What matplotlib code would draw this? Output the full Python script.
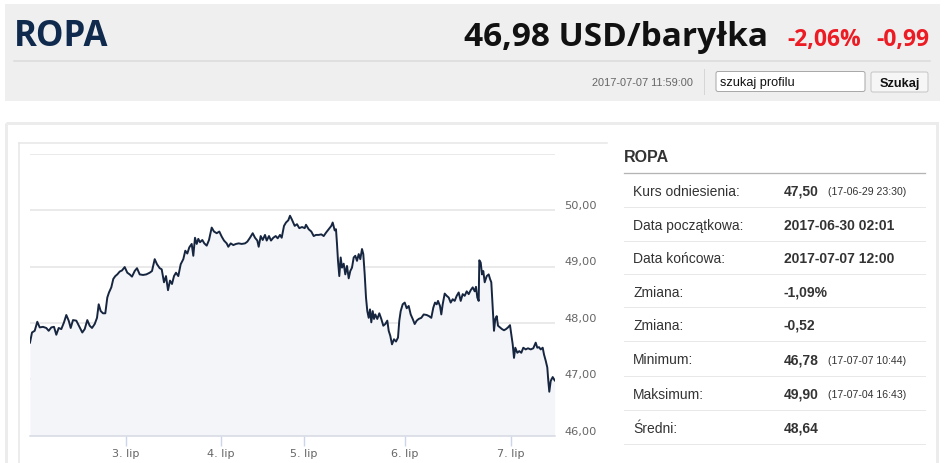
import matplotlib
matplotlib.use("Agg")
import matplotlib.pyplot as plt
from matplotlib.patches import Rectangle, FancyBboxPatch
from matplotlib.transforms import ScaledTranslation
import numpy as np

# ---------------- data ----------------
title = "ROPA"
price_text = "46,98 USD/baryłka"
change_pct_text = "-2,06%"
change_abs_text = "-0,99"
timestamp = "2017-07-07 11:59:00"

# ordinal (trading-time) position and price
t = [0, 2, 4.7, 7.3, 9.7, 13, 16.3, 18.7, 21.3, 24, 26.3, 28.7, 31.3, 34, 36.3,
     38.7, 40.7, 43, 46.3, 49.7, 52.3, 54.7, 57.3, 59.7, 62, 64.7, 67, 68.7, 70.7,
     73, 75.3, 77.3, 79, 81.3, 83.3, 85.3, 87.3, 89.7, 92, 94.7, 97.3, 99.7, 102,
     104.7, 107, 109.7, 113, 116.3, 119.7, 122, 124.7, 127, 129.7,
     131.7, 134, 136, 138, 140, 142, 144, 146, 148.3, 150.7, 153.3, 155.3, 157.3,
     159.3, 161.7, 163.3, 165, 166.7, 168.3, 170, 172.3, 174.3, 176.7, 179, 181.7,
     184, 186.7, 189.3, 191.7, 194, 196.7, 198.3, 200.7, 203.3, 206, 208.7, 211.7,
     215, 217.3, 220, 222.7, 225, 227.3, 228.7, 230.7, 232.7, 235, 236.7, 239, 241,
     243.3, 245.7, 247.7, 250, 251.7, 254, 256, 258.3, 260, 261.7,
     264.7, 267, 269.3, 272, 274.7, 276, 278.7, 281.3, 283.7, 286, 288.7, 291.3,
     293.7, 296, 298.7, 301.3, 302.7, 304.7, 306, 307, 308, 309.3, 310.7, 312,
     313.7, 315.3, 317, 318.7, 320.3, 322, 323.7, 325.3, 327, 328.7, 330.3, 332,
     333.3, 334.7, 336, 337.3, 338.7, 340, 341.3, 342.7, 344, 345.3, 347.3, 349.3,
     351.3, 353.3, 355.3, 357.3, 358.7, 360.3, 362, 364, 366, 368, 369.3, 370.7,
     372.7, 374.7, 376.7, 378.7, 380.7, 382.7, 384.7, 386.7, 388.7, 391.3, 393.7,
     396.7, 399, 401.3, 403.3, 405, 406.7, 408, 410, 411.3, 412.7, 414.7, 416.7,
     418.7, 420.7, 422.7, 424.7, 426.7, 428.7, 430.7, 432.7, 434.7, 436.7, 438.7,
     440.7, 442.7, 444.7, 446, 447.3, 448.7, 449.3, 450.7, 452, 453.3, 454.7, 456.7,
     458.7, 460, 461.3, 462.3, 463.3, 464, 465.3, 466.7, 468, 470, 472, 474, 476,
     478, 480, 481.3, 482.7, 484, 485.3, 487.3, 489.3, 491.3, 493.3, 495.7, 498,
     500.7, 503.3, 505.7, 507.3, 509, 510.7, 512.7, 514, 515.7, 517.3, 518.3, 519.3,
     520.7, 522.7, 524.7]

price = [47.65, 47.83, 47.86, 48.02, 47.92, 47.93, 47.91, 47.86, 47.92, 47.93,
         47.79, 47.91, 47.89, 48.01, 48.14, 48.04, 47.91, 48.05, 48.04, 47.92,
         47.83, 47.89, 48.05, 47.95, 47.91, 47.98, 48.09, 48.33, 48.21, 48.17,
         48.17, 48.45, 48.54, 48.63, 48.78, 48.83, 48.86, 48.91, 48.93, 48.99,
         48.89, 48.86, 48.82, 48.92, 48.97, 48.86, 48.85, 48.86, 48.89, 48.92,
         49.13, 49.04, 48.97,
         48.95, 48.72, 48.83, 48.58, 48.75, 48.69, 48.83, 48.89, 48.83, 49.04,
         49.13, 49.28, 49.23, 49.34, 49.40, 49.19, 49.51, 49.40, 49.49, 49.43,
         49.47, 49.41, 49.37, 49.47, 49.69, 49.62, 49.59, 49.62, 49.53, 49.46,
         49.41, 49.35, 49.41, 49.38, 49.40, 49.41, 49.40, 49.41, 49.44, 49.51,
         49.59, 49.51, 49.46, 49.35, 49.54, 49.47, 49.56, 49.46, 49.54, 49.46,
         49.51, 49.54, 49.50, 49.56, 49.51, 49.72, 49.78, 49.82, 49.90, 49.84,
         49.72, 49.75, 49.68, 49.70, 49.68, 49.74, 49.66, 49.62, 49.54, 49.56,
         49.56, 49.57, 49.54, 49.60, 49.66, 49.72, 49.78, 49.64, 49.66, 49.40,
         49.10, 48.83, 49.16, 48.98, 49.05, 48.86, 49.01, 48.79, 48.92, 48.98,
         49.16, 49.19, 49.10, 49.22, 49.13, 49.31, 49.22, 48.86, 48.45, 48.21,
         48.09, 48.24, 48.01, 48.21, 48.07, 48.15, 48.07, 48.17, 48.07, 47.95,
         47.98, 48.04, 47.86, 47.77, 47.62, 47.71, 47.67, 47.74, 48.04, 48.21,
         48.33, 48.36, 48.26, 48.30, 48.15, 48.07, 47.98, 48.04, 48.07, 48.09,
         48.15,
         48.14, 48.12, 48.09, 48.27, 48.36, 48.33, 48.39, 48.30, 48.15, 48.33,
         48.52, 48.48, 48.45, 48.36, 48.42, 48.39, 48.48, 48.54, 48.39, 48.51,
         48.48, 48.56, 48.51, 48.58, 48.63, 48.56, 48.64, 48.45, 48.39, 49.11,
         49.07, 48.86, 48.92, 48.72, 48.83, 48.86, 48.78, 48.72, 48.39, 48.04,
         47.86, 48.07, 48.12, 47.95, 47.92, 47.89, 47.87, 47.89, 47.92, 47.96,
         47.80, 47.62, 47.38, 47.56, 47.47, 47.50, 47.47, 47.56, 47.53, 47.55,
         47.53, 47.55, 47.65, 47.56, 47.57, 47.53, 47.56, 47.44, 47.33, 47.21,
         46.97, 46.78, 46.97, 47.04, 46.98]

x_tick_pos = [96, 191, 274, 375, 481]
x_tick_labels = ["3. lip", "4. lip", "5. lip", "6. lip", "7. lip"]
y_ticks = [46, 47, 48, 49, 50, 51]
y_tick_labels = ["46,00", "47,00", "48,00", "49,00", "50,00", ""]

table_title = "ROPA"
table_labels = ["Kurs odniesienia:", "Data początkowa:", "Data końcowa:", "Zmiana:",
                "Zmiana:", "Minimum:", "Maksimum:", "Średni:"]
table_values = ["47,50", "2017-06-30 02:01", "2017-07-07 12:00", "-1,09%",
                "-0,52", "46,78", "49,90", "48,64"]
table_notes = ["(17-06-29 23:30)", "", "", "", "", "(17-07-07 10:44)",
               "(17-07-04 16:43)", ""]

# ---------------- figure ----------------
W, H = 945, 464
fig = plt.figure(figsize=(W / 100, H / 100), dpi=100)
fig.patch.set_facecolor("white")
PX = 0.72  # points per pixel

bg = fig.add_axes([0, 0, 1, 1], zorder=0)
bg.set_xlim(0, W)
bg.set_ylim(H, 0)
bg.axis("off")

# header box
bg.add_patch(Rectangle((4.5, 5), 935, 97, fc="#efefef", ec="none"))
bg.plot([14, 930], [61.5, 61.5], color="#dadada", lw=1.5 * PX)
bg.text(14, 45.7, title, fontsize=25, color="#0f2a4d", fontweight="bold",
        family=["Open Sans", "DejaVu Sans"], va="baseline", ha="left")
bg.text(768, 45.7, price_text, fontsize=24, color="#111111", fontweight="bold",
        family=["Open Sans", "DejaVu Sans"], va="baseline", ha="right")
bg.text(861, 45.7, change_pct_text, fontsize=16.5, color="#ed1c24", fontweight="bold",
        family=["Open Sans", "DejaVu Sans"], va="baseline", ha="right")
bg.text(929, 45.7, change_abs_text, fontsize=16.5, color="#ed1c24", fontweight="bold",
        family=["Open Sans", "DejaVu Sans"], va="baseline", ha="right")

narrow = ["Liberation Sans Narrow", "Liberation Sans", "DejaVu Sans"]
bg.text(693, 83, timestamp, fontsize=7.9, color="#666666", family=narrow,
        va="center", ha="right")
bg.plot([704, 704], [70, 95], color="#d6d6d6", lw=1 * PX)
bg.add_patch(FancyBboxPatch((716, 72.5), 149, 20, boxstyle="round,pad=0,rounding_size=2",
                            fc="white", ec="#a9a9a9", lw=1 * PX))
bg.text(720, 83, "szukaj profilu", fontsize=9.2, color="#111111", family=narrow,
        va="center", ha="left")
bg.add_patch(FancyBboxPatch((871, 73), 57, 20, boxstyle="round,pad=0,rounding_size=2",
                            fc="#f6f6f6", ec="#c6c6c6", lw=1 * PX))
bg.text(899.5, 83.5, "Szukaj", fontsize=9.2, color="#111111", fontweight="bold",
        family=narrow, va="center", ha="center")

# main panel and chart box
bg.add_patch(Rectangle((5.5, 123.5), 931, 360, fc="none", ec="#ececec", lw=3 * PX))
bg.plot([19, 607], [144, 144], color="#e6e6e6", lw=1.5 * PX)
bg.plot([19, 19], [144, 470], color="#e6e6e6", lw=1.5 * PX)

# table
sans = ["Liberation Sans", "DejaVu Sans"]
bg.text(624, 162.3, table_title, fontsize=11.5, fontweight="bold", color="#333333",
        family=sans, va="baseline", ha="left")
bg.plot([624, 925], [173.5, 173.5], color="#b4b4b4", lw=1.3 * PX)
row_lines = [207.7, 241.7, 275, 308.3, 341.7, 376.7, 411, 445]
row_top = 173.5
for i, (lab, val, note) in enumerate(zip(table_labels, table_values, table_notes)):
    bottom = row_lines[i]
    yc = (row_top + bottom) / 2 + 1
    bg.text(633, yc, lab, fontsize=10, color="#333333", family=sans, va="center", ha="left")
    bg.text(784, yc, val, fontsize=10, color="#333333", fontweight="bold", family=sans,
            va="center", ha="left")
    if note:
        bg.text(828, yc + 0.5, note, fontsize=7.6, color="#333333", family=sans,
                va="center", ha="left")
    bg.plot([624, 925], [bottom, bottom], color="#e8e8e8", lw=1 * PX)
    row_top = bottom

# ---------------- chart ----------------
x0, x1 = 30, 555
ytop, ybot = 154.7, 436.7
ax = fig.add_axes([x0 / W, 1 - ybot / H, (x1 - x0) / W, (ybot - ytop) / H], zorder=1)
ax.patch.set_alpha(0)
ax.set_xlim(0, 525)
ax.set_ylim(46, 51)

ax.fill_between(t, price, 46, color="#f4f5f8", lw=0, zorder=1)
ax.plot(t, price, color="#172640", lw=1.4, zorder=3, solid_joinstyle="round")

ax.set_yticks(y_ticks)
ax.set_yticklabels(y_tick_labels)
ax.yaxis.set_ticks_position("right")
ax.tick_params(axis="y", length=0, pad=6.5, labelsize=8.2, labelcolor="#666666")
for lab in ax.get_yticklabels():
    lab.set_transform(lab.get_transform() + ScaledTranslation(0, 6 / 100, fig.dpi_scale_trans))
ax.grid(axis="y", color="#e4e4e4", lw=1.5 * PX, zorder=0)
ax.set_axisbelow(True)

ax.set_xticks(x_tick_pos)
ax.set_xticklabels(x_tick_labels)
ax.tick_params(axis="x", length=7, width=1, color="#ccd6eb", pad=2,
               labelsize=8, labelcolor="#666666")

for s in ["top", "left", "right"]:
    ax.spines[s].set_visible(False)
ax.spines["bottom"].set_color("#d5d9e2")
ax.spines["bottom"].set_linewidth(1.5 * PX)

fig.savefig("out.png", dpi=100, facecolor="white")
